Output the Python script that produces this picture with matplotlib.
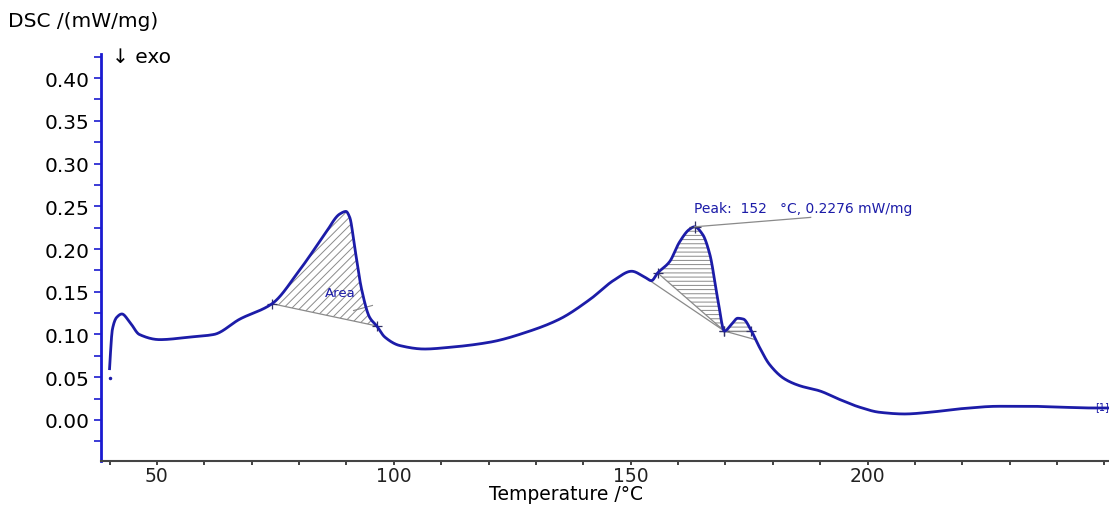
import numpy as np
import matplotlib.pyplot as plt
from matplotlib.ticker import FixedLocator, MultipleLocator

plt.rcParams['font.family'] = ['DejaVu Sans']
plt.rcParams['hatch.linewidth'] = 0.7

# DSC curve (temperature in degC, DSC in mW/mg)
temp = [40.0, 40.1, 40.6, 41.5, 42.6, 44.2, 46.3, 50.6, 57.0, 62.0, 67.5, 74.3,
        80.2, 85.4, 88.6, 89.9, 90.7, 91.8, 93.2, 94.9, 96.4, 98.1, 101.3, 106.5,
        111.8, 120.3, 128.7, 135.0, 141.4, 146.6, 150.2, 153.0, 154.4, 155.7,
        158.2, 160.3, 162.4, 163.5, 165.2, 166.7, 168.4, 169.8, 171.3, 172.6,
        173.8, 175.5, 177.2, 179.3, 182.5, 185.7, 189.9, 194.1, 198.3, 202.5,
        207.8, 213.1, 219.4, 227.8, 234.2, 240.5, 247.9, 251.0]
dsc = [0.060, 0.070, 0.106, 0.120, 0.124, 0.115, 0.100, 0.094, 0.097, 0.100,
       0.118, 0.136, 0.176, 0.217, 0.241, 0.244, 0.237, 0.200, 0.153, 0.120,
       0.110, 0.097, 0.087, 0.083, 0.085, 0.091, 0.104, 0.118, 0.141, 0.164,
       0.174, 0.167, 0.163, 0.172, 0.185, 0.208, 0.223, 0.226, 0.217, 0.194,
       0.141, 0.104, 0.112, 0.119, 0.118, 0.104, 0.085, 0.065, 0.048, 0.040,
       0.034, 0.024, 0.015, 0.009, 0.007, 0.009, 0.013, 0.016, 0.016, 0.015,
       0.014, 0.014]

# integration limits (start, end) of the evaluated areas
area1 = (74.3, 96.4)
area2 = (155.7, 169.8)
area3 = (169.8, 175.5)
peak_t, peak_v = 163.5, 0.226

blue = '#1c1ca8'
gray = '#8a8a8a'

temp = np.array(temp)
dsc = np.array(dsc)


def pchip(x, y, xn):
    # monotone cubic interpolation, keeps the read points, no overshoot
    h = np.diff(x)
    d = np.diff(y) / h
    m = np.zeros_like(y)
    for i in range(1, len(y) - 1):
        if d[i - 1] * d[i] > 0:
            w1 = 2 * h[i] + h[i - 1]
            w2 = h[i] + 2 * h[i - 1]
            m[i] = (w1 + w2) / (w1 / d[i - 1] + w2 / d[i])
    m[0], m[-1] = d[0], d[-1]
    k = np.clip(np.searchsorted(x, xn) - 1, 0, len(x) - 2)
    t = (xn - x[k]) / h[k]
    h00 = 2 * t**3 - 3 * t**2 + 1
    h10 = t**3 - 2 * t**2 + t
    h01 = -2 * t**3 + 3 * t**2
    h11 = t**3 - t**2
    return h00 * y[k] + h10 * h[k] * m[k] + h01 * y[k + 1] + h11 * h[k] * m[k + 1]


fig = plt.figure(figsize=(11.09, 5.06), dpi=100)
ax = fig.add_axes([0.0911, 0.087, 0.909, 0.804])

tt = np.linspace(temp[0], temp[-1], 3000)
yy = pchip(temp, dsc, tt)


def shade(lim, hatch):
    t0, t1 = lim
    v0, v1 = np.interp([t0, t1], temp, dsc)
    m = (tt >= t0) & (tt <= t1)
    base = v0 + (v1 - v0) * (tt[m] - t0) / (t1 - t0)
    ax.fill_between(tt[m], base, yy[m], facecolor='none', edgecolor=gray,
                    hatch=hatch, linewidth=0)
    ax.plot([t0, t1], [v0, v1], color=gray, lw=0.9)
    ax.plot([t0, t1], [v0, v1], '+', color='#333366', ms=7, mew=0.9)


shade(area1, '////')
shade(area2, '----')
shade(area3, '----')

# extra tangent lines of the second evaluation
ax.plot([153.0, 169.8], [0.167, 0.104], color=gray, lw=0.9)
ax.plot([169.8, 176.3], [0.104, 0.094], color=gray, lw=0.9)
ax.plot([91.5, 95.5], [0.128, 0.134], color=gray, lw=0.8)

ax.plot(temp[:1], [0.049], '.', color=blue, ms=3)
ax.plot(tt, yy, color=blue, lw=2.0)

# peak annotation
ax.plot([peak_t], [peak_v], '+', color='#333366', ms=8, mew=0.9)
ax.plot([peak_t, 188.0], [peak_v, 0.237], color=gray, lw=0.9)
ax.text(163.3, 0.240, 'Peak:  152   °C, 0.2276 mW/mg', color=blue, fontsize=10,
        va='bottom', ha='left')
ax.text(85.5, 0.141, 'Area', color=blue, fontsize=9.5, va='bottom', ha='left')
ax.text(250.9, 0.016, '[1]', color=blue, fontsize=7, ha='right', va='center')

ax.set_xlim(38.2, 251.0)
ax.set_ylim(-0.048, 0.428)
ax.xaxis.set_major_locator(FixedLocator([50, 100, 150, 200]))
ax.xaxis.set_minor_locator(MultipleLocator(10))
ax.set_yticks(np.arange(0, 0.41, 0.05))
ax.yaxis.set_minor_locator(MultipleLocator(0.025))

for s in ['top', 'right']:
    ax.spines[s].set_visible(False)
ax.spines['left'].set_color('#1a1ad0')
ax.spines['left'].set_linewidth(2.0)
ax.spines['bottom'].set_color('#444444')
ax.spines['bottom'].set_linewidth(1.5)

ax.tick_params(axis='y', which='both', colors='#1a1ad0', labelcolor='black',
               labelsize=14.5, length=5, width=1.2)
ax.tick_params(axis='x', which='major', colors='#222222', labelsize=13.5,
               length=3, width=1.2, pad=0.5)
ax.tick_params(axis='x', which='minor', colors='#222222', length=3, width=1.2)
ax.set_yticklabels(['%.2f' % v for v in np.arange(0, 0.41, 0.05)])

fig.text(0.007, 0.957, 'DSC /(mW/mg)', fontsize=14.5, va='center', ha='left')
fig.text(0.101, 0.887, '\u2193 exo', fontsize=14.5, va='center', ha='left')
fig.text(0.51, 0.004, 'Temperature /°C', fontsize=13.5, va='bottom', ha='center')

fig.savefig('out.png', dpi=100)
